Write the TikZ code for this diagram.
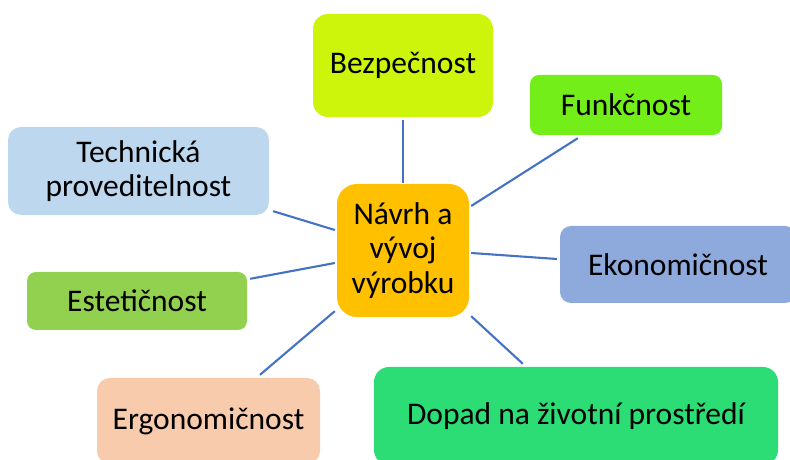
\documentclass[tikz,border=0pt]{standalone}
\usepackage{fontspec}
\setmainfont{Carlito}
\begin{document}
\begin{tikzpicture}[x=1pt,y=1pt,
  box/.style={rounded corners=#1, inner sep=0pt, align=center,
    font=\fontsize{31.5}{34.5}\selectfont, text=black},
  link/.style={draw=linkblue, line width=2.1pt}]
\definecolor{linkblue}{HTML}{4472C4}
\definecolor{cBez}{HTML}{CDF50B}
\definecolor{cFun}{HTML}{73EE19}
\definecolor{cTech}{HTML}{BDD7EE}
\definecolor{cNav}{HTML}{FFC000}
\definecolor{cEko}{HTML}{8EA9DB}
\definecolor{cEst}{HTML}{92D050}
\definecolor{cErg}{HTML}{F8CBAD}
\definecolor{cDop}{HTML}{2BDD74}
\useasboundingbox (0,0) rectangle (790,460);

% central topic
\node[box=20pt, fill=cNav, minimum width=132pt, minimum height=133pt] (nav) at (403,209.5) {Návrh a\\vývoj\\výrobku};

% surrounding aspects
\node[box=15pt, fill=cBez, minimum width=180pt, minimum height=103pt] (bez) at (403,394.5) {Bezpečnost};
\node[box=9pt, fill=cFun, minimum width=192pt, minimum height=60pt] (fun) at (626,355) {Funkčnost};
\node[box=13pt, fill=cTech, minimum width=261pt, minimum height=88pt] (tech) at (138.5,289) {Technická\\proveditelnost};
\node[box=11pt, fill=cEko, minimum width=236pt, minimum height=77pt] (eko) at (678,195.5) {Ekonomičnost};
\node[box=9pt, fill=cEst, minimum width=220pt, minimum height=58pt] (est) at (137,159) {Estetičnost};
\node[box=13pt, fill=cErg, minimum width=223pt, minimum height=86pt] (erg) at (208.5,39) {Ergonomičnost};
\node[box=15pt, fill=cDop, minimum width=404pt, minimum height=98pt] (dop) at (576,44) {Dopad na životní prostředí};

% connectors
\draw[link, shorten <=3pt, shorten >=1pt] (bez.south) -- (nav.north);
\draw[link] ([shift={(48pt,-3pt)}]fun.south west) -- ([shift={(2pt,44.5pt)}]nav.east);
\draw[link] ([shift={(2pt,-2.5pt)}]nav.east) -- ([shift={(-3pt,5.5pt)}]eko.west);
\draw[link] ([shift={(4pt,4pt)}]tech.south east) -- ([shift={(-2pt,20.5pt)}]nav.west);
\draw[link] ([shift={(3pt,-7pt)}]est.north east) -- ([shift={(-2pt,-12.5pt)}]nav.west);
\draw[link] ([shift={(-2pt,6pt)}]nav.south west) -- ([shift={(51.5pt,3pt)}]erg.north);
\draw[link] ([shift={(2pt,1pt)}]nav.south east) -- ([shift={(149pt,3pt)}]dop.north west);
\end{tikzpicture}
\end{document}
